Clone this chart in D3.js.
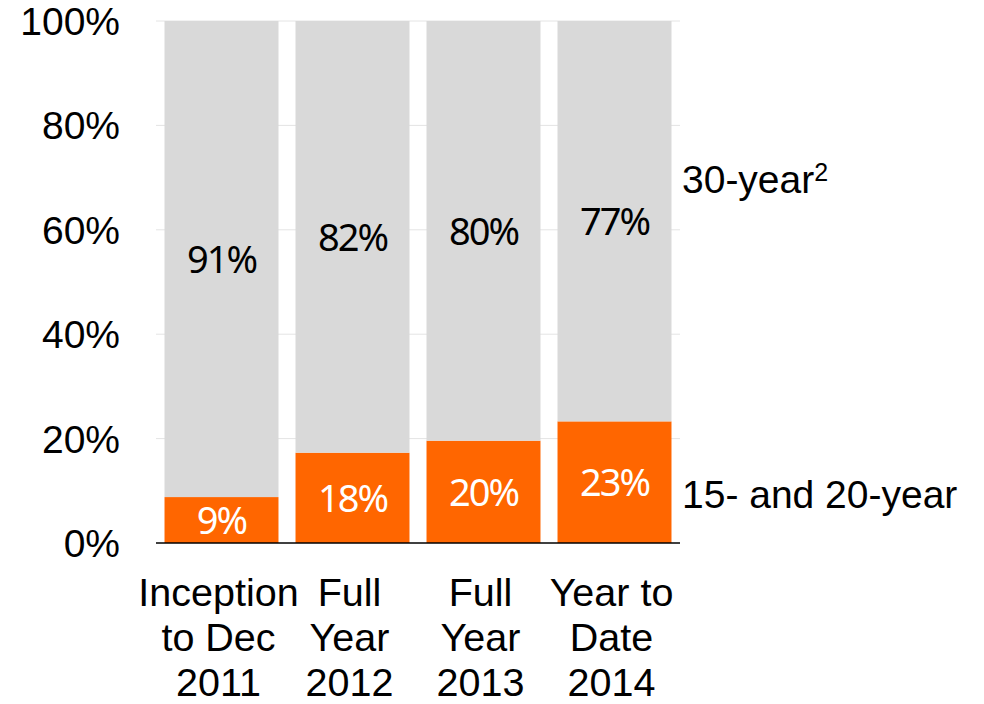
<!DOCTYPE html>
<html>
<head>
<meta charset="utf-8">
<script src="https://cdn.jsdelivr.net/npm/d3@7"></script>
<style>
  body { margin: 0; background: #fff; }
  svg text { font-family: "Liberation Sans", Arial, sans-serif; }
  .barlbl { font-family: "Noto Sans", sans-serif; }
</style>
</head>
<body>
<svg id="chart" width="984" height="704"></svg>
<script>
// chart data
var categories = [
  ["Inception", "to Dec", "2011"],
  ["Full", "Year", "2012"],
  ["Full", "Year", "2013"],
  ["Year to", "Date", "2014"]
];
var shortTerm = [8.8, 17.3, 19.6, 23.3];   // 15- and 20-year (orange)
var longTerm  = [91.2, 82.7, 80.4, 76.7];  // 30-year (gray)
var shortLabels = ["9%", "18%", "20%", "23%"];
var longLabels  = ["91%", "82%", "80%", "77%"];
var yTicks = [0, 20, 40, 60, 80, 100];
var seriesNames = ["15- and 20-year", "30-year"];

var svg = d3.select('#chart');

var x = d3.scaleBand()
  .domain(d3.range(categories.length))
  .range([156, 680])
  .paddingInner(0.13)
  .paddingOuter(0.065);

var y = d3.scaleLinear().domain([0, 100]).range([543, 21]);

// gridlines
svg.append('g')
  .selectAll('line')
  .data(yTicks.filter(d => d > 0))
  .enter().append('line')
  .attr('x1', 156).attr('x2', 680)
  .attr('y1', d => y(d)).attr('y2', d => y(d))
  .attr('stroke', '#e4e4e4')
  .attr('stroke-width', 1);

// y tick labels
svg.append('g')
  .selectAll('text')
  .data(yTicks)
  .enter().append('text')
  .attr('x', 120)
  .attr('y', d => y(d))
  .attr('dy', '0.36em')
  .attr('text-anchor', 'end')
  .attr('font-size', 39)
  .attr('fill', '#000')
  .text(d => d + '%');

var idx = d3.range(categories.length);

// orange segment
svg.append('g')
  .selectAll('rect')
  .data(idx)
  .enter().append('rect')
  .attr('x', i => x(i))
  .attr('width', x.bandwidth())
  .attr('y', i => y(shortTerm[i]))
  .attr('height', i => y(0) - y(shortTerm[i]))
  .attr('fill', '#ff6600');

// gray segment
svg.append('g')
  .selectAll('rect')
  .data(idx)
  .enter().append('rect')
  .attr('x', i => x(i))
  .attr('width', x.bandwidth())
  .attr('y', i => y(shortTerm[i] + longTerm[i]))
  .attr('height', i => y(shortTerm[i]) - y(shortTerm[i] + longTerm[i]))
  .attr('fill', '#d9d9d9');

// x axis line
svg.append('line')
  .attr('x1', 156).attr('x2', 680)
  .attr('y1', y(0)).attr('y2', y(0))
  .attr('stroke', '#000')
  .attr('stroke-width', 1.5);

// bar value labels
svg.append('g')
  .selectAll('text')
  .data(idx)
  .enter().append('text')
  .attr('class', 'barlbl')
  .attr('x', i => x(i) + x.bandwidth() / 2)
  .attr('y', i => y(shortTerm[i] / 2))
  .attr('dy', '0.36em')
  .attr('text-anchor', 'middle')
  .attr('font-size', 38)
  .attr('letter-spacing', -2)
  .attr('fill', '#fff')
  .text(i => shortLabels[i]);

svg.append('g')
  .selectAll('text')
  .data(idx)
  .enter().append('text')
  .attr('class', 'barlbl')
  .attr('x', i => x(i) + x.bandwidth() / 2)
  .attr('y', i => y(shortTerm[i] + longTerm[i] / 2))
  .attr('dy', '0.36em')
  .attr('text-anchor', 'middle')
  .attr('font-size', 38)
  .attr('letter-spacing', -2)
  .attr('fill', '#000')
  .text(i => longLabels[i]);

// category labels
var cat = svg.append('g')
  .selectAll('text')
  .data(idx)
  .enter().append('text')
  .attr('text-anchor', 'middle')
  .attr('font-size', 39.5)
  .attr('fill', '#000');
cat.each(function(i) {
  var t = d3.select(this);
  categories[i].forEach(function(line, k) {
    t.append('tspan')
      .attr('x', x(i) + x.bandwidth() / 2 - 3)
      .attr('y', 606 + k * 45)
      .text(line);
  });
});

// series labels on right
svg.append('text')
  .attr('x', 682).attr('y', 508)
  .attr('font-size', 39)
  .text(seriesNames[0]);

var lt = svg.append('text')
  .attr('x', 682).attr('y', 193)
  .attr('font-size', 39)
  .text(seriesNames[1]);
lt.append('tspan')
  .attr('font-size', 25)
  .attr('dy', -12)
  .text('2');
</script>
</body>
</html>
